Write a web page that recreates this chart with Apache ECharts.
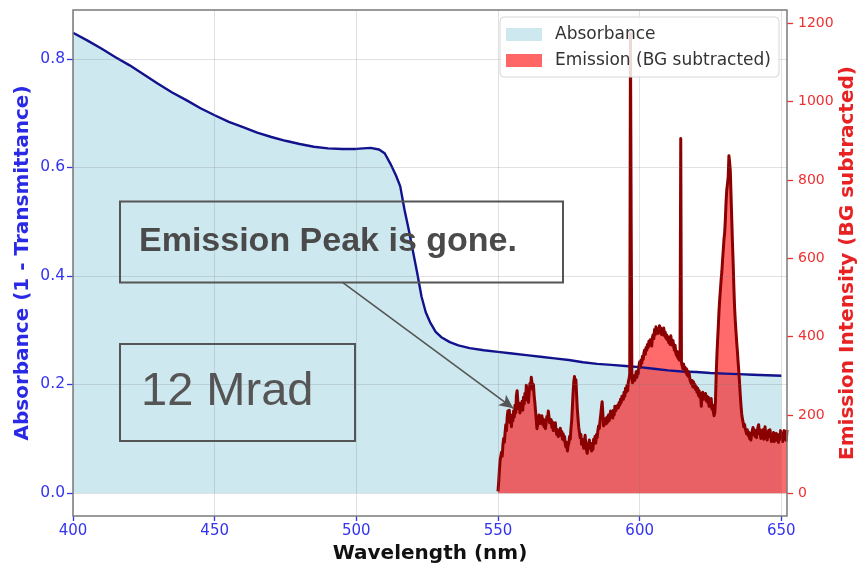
<!DOCTYPE html>
<html>
<head>
<meta charset="utf-8">
<script src="https://cdn.jsdelivr.net/npm/echarts@6/dist/echarts.min.js"></script>
<style>
  html, body { margin: 0; padding: 0; background: #ffffff; }
  #chart { width: 860px; height: 564px; }
</style>
</head>
<body>
<div id="chart"></div>
<script>
// Absorbance spectrum (1 - transmittance)
const absWavelength = [400, 405, 410, 415, 420, 425, 430, 435, 440, 445, 450, 455, 460, 465, 470, 475, 480, 485, 490, 495,
  500, 505, 508, 510, 512, 514, 515.5, 517, 518.5, 520, 521.5, 523, 524.5, 526, 528, 530, 533, 536, 540, 545,
  550, 555, 560, 565, 570, 575, 580, 585, 590, 595, 600, 605, 610, 615, 620, 625, 630, 635, 640, 645, 650];
const absValue = [0.848, 0.834, 0.819, 0.803, 0.788, 0.771, 0.754, 0.738, 0.724, 0.709, 0.696, 0.684, 0.674, 0.664, 0.656, 0.649, 0.643, 0.638, 0.635, 0.634,
  0.634, 0.636, 0.633, 0.626, 0.607, 0.585, 0.565, 0.522, 0.485, 0.445, 0.405, 0.362, 0.333, 0.315, 0.297, 0.287, 0.278, 0.272, 0.267, 0.263,
  0.260, 0.257, 0.254, 0.251, 0.248, 0.245, 0.241, 0.238, 0.236, 0.234, 0.232, 0.229, 0.226, 0.224, 0.223, 0.221, 0.220, 0.219, 0.218, 0.217, 0.216];

// Background-subtracted emission spectrum, sampled every 0.25 nm from 550 nm
const emStart = 550;
const emStep = 0.25;
const emIntensity = [
  5, 30, 60, 85,        80, 105, 95, 125,     140, 130, 155, 175,   160, 195, 210, 190,   212, 180, 195, 170,   // 550-554
  200, 185, 210, 195,   225, 205, 250, 262,   235, 215, 228, 205,   230, 215, 235, 212,   245, 228, 255, 238,   // 555-559
  276, 250, 262, 232,   258, 280, 270, 296,   282, 265, 278, 250,   232, 210, 188, 165,   160, 185, 200, 178,   // 560-564
  195, 182, 198, 176,   190, 170, 185, 165,   180, 196, 188, 210,   195, 180, 175, 188,   168, 182, 160, 178,   // 565-569
  165, 180, 158, 150,   162, 145, 158, 148,   166, 150, 158, 138,   152, 135, 145, 125,   118, 130, 108, 122,   // 570-574
  128, 145, 138, 165,   185, 220, 255, 285,   298, 280, 290, 250,   215, 190, 168, 155,   142, 150, 125, 138,   // 575-579
  140, 115, 132, 148,   122, 110, 102, 118,   128, 136, 115, 128,   108, 122, 112, 138,   130, 145, 128, 150,   // 580-584
  142, 160, 172, 165,   185, 200, 218, 234,   205, 172, 188, 176,   190, 178, 195, 182,   200, 186, 198, 210,   // 585-589
  195, 205, 192, 212,   200, 222, 210, 215,   206, 225, 218, 232,   225, 240, 232, 248,   252, 240, 258, 248,   // 590-594
  268, 258, 275, 262,   285, 292, 305, 1174,  693, 300, 282, 292,   300, 288, 296, 310,   296, 312, 305, 325,   // 595-599
  336, 322, 340, 332,   350, 342, 358, 366,   355, 372, 365, 380,   372, 388, 378, 392,   385, 376, 398, 405,   // 600-604
  395, 418, 405, 425,   412, 420, 408, 418,   428, 410, 422, 405,   418, 410, 422, 402,   412, 396, 405, 392,   // 605-609
  400, 385, 395, 380,   402, 388, 378, 390,   375, 365, 378, 358,   352, 362, 345, 356,   340, 352, 906, 335,   // 610-614
  326, 318, 330, 315,   322, 308, 318, 302,   312, 298, 305, 290,   294, 280, 288, 272,   285, 270, 278, 265,   // 615-619
  272, 258, 268, 250,   262, 245, 255, 222,   250, 258, 240, 252,   242, 255, 236, 248,   232, 245, 222, 236,   // 620-624
  228, 242, 215, 225,   208, 198, 205, 235,   300, 350, 390, 425,   465, 495, 520, 545,   565, 595, 620, 648,   // 625-629
  665, 700, 745, 775,   790, 808, 862, 845,   822, 760, 700, 640,   587, 525, 475, 440,   412, 385, 362, 335,   // 630-634
  310, 282, 252, 225,   204, 190, 182, 170,   176, 165, 170, 152,   162, 148, 156, 140,   152, 136, 150, 160,   // 635-639
  168, 150, 162, 145,   158, 142, 160, 168,   175, 152, 162, 140,   156, 145, 162, 138,   152, 170, 150, 142,   // 640-644
  136, 152, 160, 145,   162, 148, 132, 150,   142, 155, 132, 148,   140, 153, 135, 148,   130, 150, 138, 160,   // 645-649
  142, 152, 132, 150,   160, 138, 152, 135,   162                                                             // 650-652
];

// Axis ticks
const xTicks = [400, 450, 500, 550, 600, 650];
const absTicks = [0, 0.2, 0.4, 0.6, 0.8];
const emTicks = [0, 200, 400, 600, 800, 1000, 1200];

const BLUE_TXT = '#3434ee';
const RED_TXT = '#ee3030';
const FONT = '"DejaVu Sans", Verdana, sans-serif';

const absData = absWavelength.map((w, i) => [w, absValue[i]]);
const emData = emIntensity.map((v, i) => [emStart + i * emStep, v]);

const chart = echarts.init(document.getElementById('chart'), null, { renderer: 'canvas' });

chart.setOption({
  animation: false,
  backgroundColor: '#ffffff',
  grid: {
    left: 73, top: 10, width: 714, height: 506,
    outerBoundsMode: 'none', containLabel: false,
    show: true, backgroundColor: 'transparent',
    borderColor: '#7a7a7a', borderWidth: 1.5, z: 10
  },
  legend: {
    orient: 'vertical',
    left: 500, top: 17,
    padding: [9, 8, 8, 6],
    itemGap: 9, itemWidth: 36, itemHeight: 13,
    backgroundColor: 'rgba(255,255,255,0.85)',
    borderColor: '#d6d6d6', borderWidth: 1, borderRadius: 4,
    textStyle: { fontFamily: FONT, fontSize: 17, color: '#333333', padding: [0, 0, 0, 8] },
    data: [
      { name: 'Absorbance', icon: 'rect', itemStyle: { color: 'rgba(173,216,230,0.6)', borderWidth: 0, opacity: 1 } },
      { name: 'Emission (BG subtracted)', icon: 'rect', itemStyle: { color: 'rgba(255,0,0,0.6)', borderWidth: 0, opacity: 1 } }
    ],
    z: 20
  },
  xAxis: {
    type: 'value', min: 400, max: 652, z: 3,
    name: 'Wavelength (nm)', nameLocation: 'middle', nameGap: 28, nameMoveOverlap: false,
    nameTextStyle: { fontFamily: FONT, fontSize: 20, fontWeight: 'bold', color: '#111111' },
    axisLine: { show: false, onZero: false },
    axisTick: { show: true, length: 5, customValues: xTicks, lineStyle: { color: BLUE_TXT, width: 1.3 } },
    axisLabel: { customValues: xTicks, margin: 8, fontFamily: FONT, fontSize: 15, color: BLUE_TXT, formatter: v => String(v) },
    splitLine: { show: true, lineStyle: { color: 'rgba(120,120,120,0.22)', width: 1 } }
  },
  yAxis: [
    {
      type: 'value', min: -0.0424, max: 0.890, position: 'left', z: 3,
      name: 'Absorbance (1 - Transmittance)', nameLocation: 'middle', nameGap: 40, nameRotate: 90, nameMoveOverlap: false,
      nameTextStyle: { fontFamily: FONT, fontSize: 20, fontWeight: 'bold', color: '#2a2ae6' },
      axisLine: { show: false, onZero: false },
      axisTick: { show: true, length: 6, customValues: absTicks, lineStyle: { color: BLUE_TXT, width: 1.3 } },
      axisLabel: { customValues: absTicks, margin: 8, fontFamily: FONT, fontSize: 15.5, color: BLUE_TXT, formatter: v => v.toFixed(1) },
      splitLine: { show: true, lineStyle: { color: 'rgba(120,120,120,0.22)', width: 1 } }
    },
    {
      type: 'value', min: -58, max: 1234, position: 'right', z: 3,
      name: 'Emission Intensity (BG subtracted)', nameLocation: 'middle', nameGap: 51, nameRotate: 90, nameMoveOverlap: false,
      nameTextStyle: { fontFamily: FONT, fontSize: 20, fontWeight: 'bold', color: '#e82222' },
      axisLine: { show: false, onZero: false },
      axisTick: { show: true, length: 6, customValues: emTicks, lineStyle: { color: RED_TXT, width: 1.3 } },
      axisLabel: { customValues: emTicks, margin: 11, fontFamily: FONT, fontSize: 14, color: RED_TXT, formatter: v => String(v) },
      splitLine: { show: false }
    }
  ],
  series: [
    {
      name: 'Absorbance', type: 'line', xAxisIndex: 0, yAxisIndex: 0,
      data: absData, showSymbol: false, smooth: false, z: 2,
      lineStyle: { color: '#12128c', width: 2.4 },
      itemStyle: { color: 'rgba(173,216,230,0.6)' },
      areaStyle: { color: 'rgba(173,216,230,0.6)', opacity: 1 }
    },
    {
      name: 'Emission (BG subtracted)', type: 'line', xAxisIndex: 0, yAxisIndex: 1,
      data: emData, showSymbol: false, smooth: false, z: 2,
      lineStyle: { color: '#8b0000', width: 3, join: 'round' },
      itemStyle: { color: 'rgba(255,0,0,0.6)' },
      areaStyle: { color: 'rgba(255,0,0,0.58)', opacity: 1 },
      markLine: {
        silent: true, animation: false,
        symbol: ['none', 'arrow'], symbolSize: [10, 14],
        label: { show: false },
        lineStyle: { color: '#555555', width: 1.6, type: 'solid' },
        data: [[{ coord: [495.0, 539] }, { coord: [555.4, 217] }]]
      }
    }
  ],
  graphic: [
    {
      type: 'rect', z: 100, silent: true,
      shape: { x: 120, y: 201.5, width: 443, height: 81 },
      style: { fill: 'none', stroke: '#555555', lineWidth: 2 }
    },
    {
      type: 'text', z: 100, silent: true, x: 139, y: 242,
      style: { text: 'Emission Peak is gone.', font: 'bold 34px "Liberation Sans", Arial, sans-serif', fill: '#4a4a4a', verticalAlign: 'middle', align: 'left' }
    },
    {
      type: 'rect', z: 100, silent: true,
      shape: { x: 120, y: 344, width: 235, height: 97 },
      style: { fill: 'none', stroke: '#555555', lineWidth: 2 }
    },
    {
      type: 'text', z: 100, silent: true, x: 141, y: 392,
      style: { text: '12 Mrad', font: '47px "Liberation Sans", Arial, sans-serif', fill: '#555555', verticalAlign: 'middle', align: 'left' }
    }
  ]
});
</script>
</body>
</html>
